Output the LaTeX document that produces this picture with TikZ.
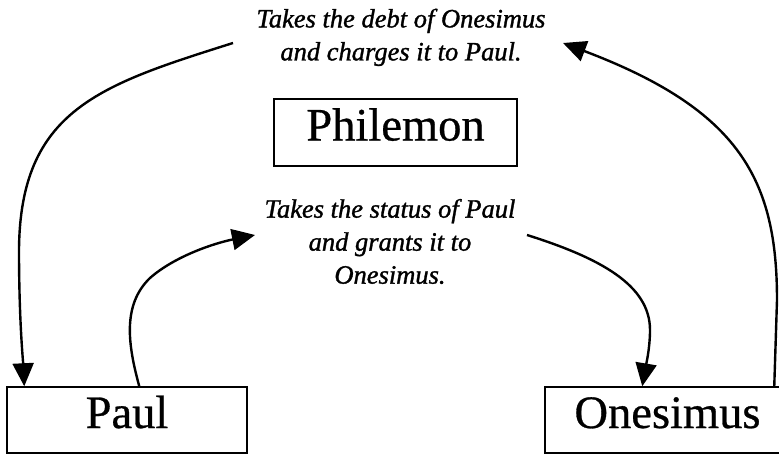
\documentclass[tikz,border=0pt]{standalone}
\usepackage{fontspec}
\setmainfont{Liberation Serif}
\newfontfamily\notefont{Liberation Serif}[FakeBold=1.2]
\newfontfamily\boxfont{Liberation Serif}[FakeBold=0.6]
\usetikzlibrary{arrows.meta,calc}
\begin{document}
\begin{tikzpicture}[x=1pt,y=-1pt,
  namebox/.style={draw,line width=1.5pt,inner sep=0pt,minimum height=66pt,
    text height=30pt,text depth=14pt,font=\boxfont\fontsize{46.5}{50}\selectfont},
  note/.style={inner sep=0pt,align=center,font=\notefont\itshape\fontsize{26.5}{33}\selectfont},
  conn/.style={line width=2.4pt,-{Triangle[length=23pt,width=21pt]}}]
\useasboundingbox (0,0) rectangle (779,455);
\clip (0,0) rectangle (779,455);
\fill[white] (0,0) rectangle (779,455);

\node[namebox,minimum width=243pt,minimum height=67pt] (phil) at (395.5,132.5) {Philemon};
\node[namebox,minimum width=240pt] (paul) at (127,420) {Paul};
\node[namebox,minimum width=245pt] (ones) at (667.5,420) {Onesimus};

\node[note] (debt) at (401,37.4) {Takes the debt of Onesimus\\and charges it to Paul.};
\node[note] (status) at (390,241.5) {Takes the status of Paul\\and grants it to\\Onesimus.};

\coordinate (d1) at (233,43);
\coordinate (d2) at (563,43);
\coordinate (s1) at (255,235);
\coordinate (s2) at (527,235);

% debt: from the note down to Paul
\draw[conn] (d1) .. controls (100,85) and (20,110) .. (19,250)
  .. controls (19,320) and (23,360) .. ($(paul.north west)+(18,0)$);
% Onesimus up to the debt note
\draw[conn] ($(ones.north west)+(230,0)$) -- (777,300)
  .. controls (777,180) and (740,110) .. (d2);
% Paul up to the status note
\draw[conn] ($(paul.north west)+(133,0)$) .. controls (128,345) and (122,305) .. (150,278)
  .. controls (175,256) and (215,243) .. (s1);
% status note down to Onesimus
\draw[conn] (s2) .. controls (600,258) and (650,285) .. (650,330)
  .. controls (650,350) and (645,370) .. ($(ones.north west)+(98,0)$);
\end{tikzpicture}
\end{document}
